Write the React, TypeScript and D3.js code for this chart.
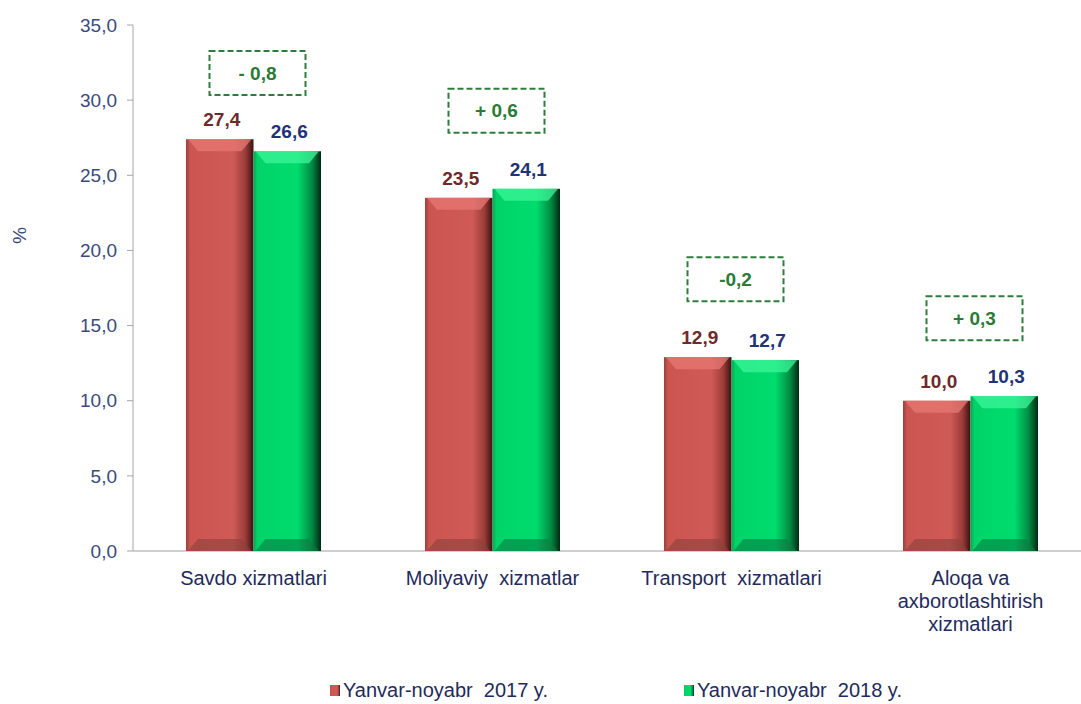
import React from 'react';
import * as d3 from 'd3';

const categories = ['Savdo xizmatlari', 'Moliyaviy  xizmatlar', 'Transport  xizmatlari', 'Aloqa va axborotlashtirish xizmatlari'];
const categoryLines = [['Savdo xizmatlari'], ['Moliyaviy  xizmatlar'], ['Transport  xizmatlari'], ['Aloqa va', 'axborotlashtirish', 'xizmatlari']];
const series = ['Yanvar-noyabr  2017 y.', 'Yanvar-noyabr  2018 y.'];
const values2017 = [27.4, 23.5, 12.9, 10.0];
const values2018 = [26.6, 24.1, 12.7, 10.3];
const changes = ['- 0,8', '+ 0,6', '-0,2', '+ 0,3'];
const yTicks = [0, 5, 10, 15, 20, 25, 30, 35];

const W = 1081;
const H = 704;
const FONT = '"Liberation Sans", Arial, sans-serif';
const fmt = (v: number) => v.toFixed(1).replace('.', ',');

export default function App() {
  const y = d3.scaleLinear().domain([0, 35]).range([551, 25]);
  const x0 = d3.scaleBand<string>().domain(categories).range([134, 1090]).padding(0);
  const x1 = d3.scaleBand<string>().domain(series).range([0, x0.bandwidth()]).paddingInner(0).paddingOuter(0.77);
  const bw = x1.bandwidth();
  const bevel = 12;

  const seriesValues = [values2017, values2018];
  const fills = ['url(#gRed)', 'url(#gGreen)'];
  const topFills = ['#e77873', '#3cf59a'];
  const botFills = ['#8e3f3c', '#0b7a43'];
  const labelColors = ['#6e2a2a', '#1f3378'];

  return (
    <svg width={W} height={H} style={{ position: 'absolute', left: 0, top: 0, background: '#fff' }} fontFamily={FONT}>
      <defs>
        <linearGradient id="gRed" x1="0" x2="1" y1="0" y2="0">
          <stop offset="0" stopColor="#9a3f3c" />
          <stop offset="0.06" stopColor="#cc5551" />
          <stop offset="0.7" stopColor="#d05a56" />
          <stop offset="0.88" stopColor="#9b3c39" />
          <stop offset="1" stopColor="#3a1110" />
        </linearGradient>
        <linearGradient id="gGreen" x1="0" x2="1" y1="0" y2="0">
          <stop offset="0" stopColor="#06a552" />
          <stop offset="0.06" stopColor="#00d468" />
          <stop offset="0.65" stopColor="#00dc6e" />
          <stop offset="0.86" stopColor="#008d43" />
          <stop offset="1" stopColor="#002a12" />
        </linearGradient>
      </defs>

      {/* y axis */}
      <line x1={133} x2={133} y1={y(35)} y2={y(0)} stroke="#a6a6a6" strokeWidth={1} />
      {yTicks.map((t) => (
        <g key={t}>
          <line x1={127} x2={133} y1={y(t)} y2={y(t)} stroke="#a6a6a6" />
          <text x={117} y={y(t)} dy="0.35em" textAnchor="end" fontSize={19} fill="#3a4a7c">
            {fmt(t)}
          </text>
        </g>
      ))}
      <text transform={`translate(20,${y(21)}) rotate(90)`} textAnchor="middle" dy="0.35em" fontSize={19} fill="#3a4a7c">
        %
      </text>

      {/* x axis */}
      <line x1={133} x2={W} y1={y(0)} y2={y(0)} stroke="#bfbfbf" strokeWidth={1.5} />

      {/* bars */}
      {categories.map((c, i) => (
        <g key={c} transform={`translate(${x0(c)},0)`}>
          {series.map((s, j) => {
            const v = seriesValues[j][i];
            const bx = x1(s) as number;
            const top = y(v);
            const bot = y(0);
            return (
              <g key={s}>
                <rect x={bx} y={top} width={bw} height={bot - top} fill={fills[j]} />
                <polygon
                  points={`${bx + 2},${top} ${bx + bw - 2},${top} ${bx + bw - bevel},${top + bevel} ${bx + bevel},${top + bevel}`}
                  fill={topFills[j]}
                  opacity={0.75}
                />
                <polygon
                  points={`${bx + 2},${bot} ${bx + bw - 2},${bot} ${bx + bw - bevel},${bot - bevel} ${bx + bevel},${bot - bevel}`}
                  fill={botFills[j]}
                  opacity={0.6}
                />
                <text x={bx + bw / 2 + 2} y={top - 13} textAnchor="middle" fontSize={19} fontWeight="bold" fill={labelColors[j]}>
                  {fmt(v)}
                </text>
              </g>
            );
          })}
          {(() => {
            const mx = Math.max(values2017[i], values2018[i]);
            const cy = Math.max(y(mx) - 78, 73);
            const cx = x0.bandwidth() / 2 + 4;
            return (
              <g>
                <rect x={cx - 48} y={cy - 22} width={96} height={44} fill="#fff" stroke="#2f7d3c" strokeWidth={2} strokeDasharray="6,3" />
                <text x={cx} y={cy} dy="0.35em" textAnchor="middle" fontSize={19} fontWeight="bold" fill="#2b7a35">
                  {changes[i]}
                </text>
              </g>
            );
          })()}
          {categoryLines[i].map((ln, k) => (
            <text key={k} x={x0.bandwidth() / 2} y={585 + k * 23} textAnchor="middle" fontSize={20} fill="#1f2b5c" style={{ whiteSpace: 'pre' }}>
              {ln}
            </text>
          ))}
        </g>
      ))}

      {/* legend */}
      {series.map((s, j) => {
        const lx = j === 0 ? 330 : 684;
        return (
          <g key={s}>
            <rect x={lx} y={685} width={10} height={11} fill={fills[j]} />
            <text x={lx + 13} y={697} fontSize={20} fill="#1f2b5c" style={{ whiteSpace: 'pre' }}>
              {s}
            </text>
          </g>
        );
      })}
    </svg>
  );
}
